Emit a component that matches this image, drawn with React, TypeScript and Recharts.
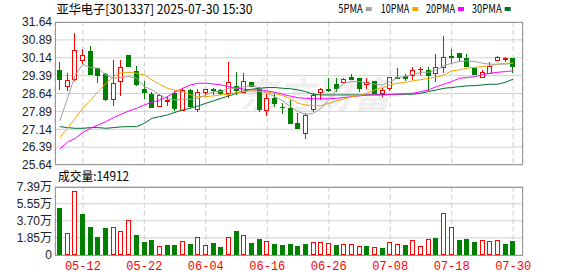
import { ComposedChart, Bar, Line, XAxis, YAxis, CartesianGrid } from "recharts"

const dates = [
  "05-07", "05-08", "05-09", "05-12", "05-13", "05-14", "05-15", "05-16", "05-19", "05-20",
  "05-21", "05-22", "05-23", "05-26", "05-27", "05-28", "05-29", "05-30", "06-03", "06-04",
  "06-05", "06-06", "06-09", "06-10", "06-11", "06-12", "06-13", "06-16", "06-17", "06-18",
  "06-19", "06-20", "06-23", "06-24", "06-25", "06-26", "06-27", "06-30", "07-01", "07-02",
  "07-03", "07-04", "07-07", "07-08", "07-09", "07-10", "07-11", "07-14", "07-15", "07-16",
  "07-17", "07-18", "07-21", "07-22", "07-23", "07-24", "07-25", "07-28", "07-29", "07-30",
]

const opens = [
  29.63, 28.97, 29.25, 30.03, 30.41, 29.72, 29.47, 28.42, 29.15, 30.24,
  29.58, 28.81, 28.61, 28.11, 28.33, 28.67, 27.95, 28.79, 27.99, 28.72,
  28.82, 28.77, 28.65, 28.97, 28.72, 29.11, 28.89, 27.95, 28.44, 28.08,
  28.02, 27.39, 27.0, 27.98, 28.72, 28.81, 29.03, 29.14, 29.35, 29.31,
  29.03, 29.18, 28.65, 28.89, 29.33, 29.38, 29.42, 29.66, 29.63, 29.52,
  29.74, 30.2, 30.33, 30.12, 29.73, 29.35, 29.49, 30.05, 30.07, 30.12,
]
const highs = [
  29.98, 29.49, 31.17, 30.5, 30.62, 29.73, 29.5, 30.03, 30.06, 30.25,
  29.78, 29.15, 28.72, 28.6, 28.55, 28.75, 28.86, 28.82, 28.83, 28.83,
  28.89, 28.84, 29.98, 29.56, 29.49, 29.14, 28.92, 28.61, 28.65, 28.23,
  28.35, 27.81, 27.81, 28.68, 28.89, 29.28, 29.28, 29.28, 29.45, 29.31,
  29.28, 29.18, 28.86, 29.35, 29.7, 29.45, 29.77, 29.77, 29.77, 30.29,
  31.07, 30.51, 30.33, 30.29, 29.73, 29.63, 29.95, 30.23, 30.19, 30.12,
]
const lows = [
  28.79, 28.76, 29.15, 29.87, 29.4, 29.07, 28.32, 28.1, 28.52, 29.77,
  28.94, 28.42, 28.02, 28.08, 28.12, 27.9, 27.9, 28.02, 27.88, 28.58,
  28.58, 28.58, 28.44, 28.58, 28.65, 28.93, 27.88, 27.71, 28.06, 27.77,
  27.35, 27.18, 26.73, 27.88, 28.37, 28.72, 28.72, 29.07, 29.21, 28.69,
  28.82, 28.65, 28.51, 28.75, 29.28, 29.17, 29.21, 29.42, 28.73, 29.14,
  29.49, 29.88, 29.98, 29.77, 29.42, 29.31, 29.45, 30.02, 29.98, 29.49,
]
const closes = [
  29.25, 29.21, 30.47, 30.24, 29.44, 29.4, 28.42, 29.09, 29.76, 29.81,
  29.05, 28.7, 28.09, 28.56, 28.36, 28.02, 28.79, 28.12, 28.72, 28.82,
  28.78, 28.65, 29.11, 28.79, 29.18, 28.97, 27.98, 28.44, 28.23, 28.06,
  27.39, 27.21, 27.74, 28.58, 28.82, 28.79, 28.86, 29.24, 29.24, 28.89,
  29.14, 28.68, 28.78, 29.35, 29.31, 29.31, 29.63, 29.68, 29.42, 29.74,
  30.19, 30.18, 30.16, 29.81, 29.45, 29.56, 29.81, 30.19, 30.12, 29.81,
]

const ma5 = [
  27.49, 28.44, 29.42, 29.87, 29.73, 29.7, 29.42, 29.28, 29.31, 29.35,
  29.28, 28.93, 28.79, 28.58, 28.41, 28.37, 28.4, 28.4, 28.44, 28.58,
  28.72, 28.72, 28.86, 28.86, 28.93, 28.97, 28.86, 28.65, 28.51, 28.33,
  28.09, 27.88, 27.77, 27.81, 28.02, 28.37, 28.79, 29.07, 29.14, 29.14,
  29.07, 29.03, 29.0, 29.14, 29.31, 29.35, 29.45, 29.53, 29.53, 29.63,
  29.81, 29.91, 29.98, 30.01, 29.98, 29.91, 29.87, 29.87, 29.87, 29.91,
]
const ma10 = [
  26.79, 27.18, 27.6, 28.02, 28.37, 28.72, 29.07, 29.35, 29.52, 29.53,
  29.49, 29.42, 29.21, 29.03, 28.86, 28.77, 28.72, 28.58, 28.51, 28.51,
  28.54, 28.58, 28.61, 28.68, 28.72, 28.75, 28.72, 28.69, 28.64, 28.55,
  28.42, 28.23, 28.16, 28.13, 28.13, 28.23, 28.33, 28.41, 28.51, 28.55,
  28.65, 28.79, 28.89, 29.0, 29.07, 29.11, 29.18, 29.22, 29.28, 29.33,
  29.42, 29.59, 29.63, 29.7, 29.74, 29.77, 29.81, 29.87, 29.91, 29.91,
]
const ma20 = [
  26.32, 26.6, 26.76, 27.01, 27.18, 27.32, 27.46, 27.63, 27.77, 27.91,
  28.02, 28.16, 28.27, 28.37, 28.51, 28.7, 28.86, 29.0, 29.07, 29.07,
  29.04, 29.0, 28.93, 28.86, 28.82, 28.79, 28.79, 28.75, 28.69, 28.61,
  28.53, 28.46, 28.44, 28.42, 28.42, 28.42, 28.44, 28.47, 28.51, 28.54,
  28.58, 28.58, 28.58, 28.6, 28.61, 28.63, 28.65, 28.72, 28.79, 28.93,
  29.03, 29.14, 29.28, 29.31, 29.35, 29.42, 29.49, 29.53, 29.56, 29.59,
]
const ma30 = [
  27.25, 27.21, 27.18, 27.18, 27.21, 27.21, 27.18, 27.21, 27.24, 27.25,
  27.25, 27.39, 27.6, 27.67, 27.74, 27.85, 27.95, 28.02, 28.12, 28.23,
  28.33, 28.44, 28.54, 28.65, 28.75, 28.82, 28.86, 28.89, 28.89, 28.86,
  28.84, 28.79, 28.72, 28.6, 28.58, 28.58, 28.58, 28.58, 28.58, 28.58,
  28.58, 28.59, 28.59, 28.6, 28.61, 28.61, 28.61, 28.65, 28.72, 28.79,
  28.86, 28.89, 28.93, 28.96, 28.97, 29.0, 29.03, 29.03, 29.11, 29.24,
]

const volumes = [
  50470, 23430, 69220, 44340, 30640, 19110, 28840, 29920, 25960, 37490,
  21630, 14420, 16220, 10090, 10820, 10820, 15140, 11900, 19110, 10450,
  12980, 8650, 19110, 25960, 21270, 12980, 17300, 15140, 11900, 10820,
  11900, 9730, 11900, 13700, 13700, 12980, 10450, 11900, 11900, 9730,
  9370, 8650, 7210, 13700, 11900, 10450, 15860, 9370, 17300, 18030,
  45420, 30280, 15860, 17300, 14060, 15860, 15140, 15860, 11900, 14912,
]
// r = up day (hollow red bar), g = down day (green bar)
const volColors = "grrggggrrrgggrggrgrrggrgrggrgggggrrrgrrrgrgrrgrrrgrrgggrrrgg"

const priceTicks = [25.64, 26.39, 27.14, 27.89, 28.64, 29.39, 30.14, 30.89, 31.64]
const volTicks = [0, 18500, 37000, 55500, 73900]
const dateTicks = ["05-12", "05-22", "06-04", "06-16", "06-26", "07-08", "07-18", "07-30"]

const legend = [
  { name: "5PMA", color: "#a0a0a0" },
  { name: "10PMA", color: "#f5a500" },
  { name: "20PMA", color: "#ff00ff" },
  { name: "30PMA", color: "#00702f" },
]

const RED = "#ff0000"
const GREEN = "#008000"

const rows = dates.map((date, i) => ({
  date,
  open: opens[i],
  high: highs[i],
  low: lows[i],
  close: closes[i],
  ma5: ma5[i],
  ma10: ma10[i],
  ma20: ma20[i],
  ma30: ma30[i],
  vol: volumes[i],
  up: volColors[i] === "r",
}))

function Candle(props: any) {
  const { x, y, width, height, payload } = props
  const top = Math.min(y, y + height)
  const h = Math.abs(height)
  const { open, close, high, low } = payload
  const k = high > low ? h / (high - low) : 0
  const py = (v: number) => top + (high - v) * k
  const up = close >= open
  const color = up ? RED : GREEN
  const L = Math.round(x + (width - 5) / 2)
  const cx = L + 2.5
  const bTop = Math.round(py(Math.max(open, close))) + 0.5
  const bBot = Math.round(py(Math.min(open, close))) + 0.5
  return (
    <g>
      <line x1={cx} x2={cx} y1={Math.round(py(high))} y2={Math.round(py(low))} stroke={color} strokeWidth={1} />
      {bBot - bTop < 1 ? (
        <line x1={L} x2={L + 5} y1={bTop} y2={bTop} stroke={color} strokeWidth={1} />
      ) : (
        <rect x={L + 0.5} y={bTop} width={4} height={bBot - bTop} fill={up ? "#fff" : color} stroke={color} strokeWidth={1} />
      )}
    </g>
  )
}

function VolBar(props: any) {
  const { x, y, width, height, payload } = props
  const L = Math.round(x + (width - 5) / 2)
  const top = Math.round(y) + 0.5
  const bottom = Math.round(y + height) - 0.5
  const color = payload.up ? RED : GREEN
  return <rect x={L + 0.5} y={top} width={4} height={Math.max(bottom - top, 0)} fill={payload.up ? "#fff" : color} stroke={color} strokeWidth={1} />
}

const axisFont = { fontSize: 12, fill: "#222", fontFamily: "'Liberation Sans', Arial, 'Noto Sans CJK SC', sans-serif" }
const cjk = "'Noto Sans CJK SC', 'Liberation Sans', sans-serif"

export default function App() {
  return (
    <div style={{ position: "absolute", left: 0, top: 0, width: 578, height: 276, background: "#fff", overflow: "hidden" }}>
      {/* watermark */}
      <div style={{ position: "absolute", left: 240, top: 66, fontSize: 36, fontWeight: 700, fontStyle: "italic", color: "#efefef", fontFamily: cjk, letterSpacing: 2, whiteSpace: "nowrap" }}>
        东方财富
      </div>

      {/* price chart */}
      <div style={{ position: "absolute", left: 0, top: 0 }}>
        <ComposedChart width={578} height={176} data={rows} margin={{ top: 22, right: 55, bottom: 11, left: 0 }}>
          <CartesianGrid vertical={false} stroke="#d2d2d2" />
          <CartesianGrid horizontal={false} stroke="#cccccc" strokeDasharray="5 3" />
          <XAxis dataKey="date" ticks={dateTicks} interval={0} hide padding={{ left: 1, right: 6 }} />
          <YAxis
            domain={[25.64, 31.64]}
            ticks={priceTicks}
            interval={0}
            width={55}
            axisLine={false}
            tickLine={false}
            tickSize={0}
            tickMargin={3}
            tick={axisFont}
            tickFormatter={(v: number) => v.toFixed(2)}
            allowDataOverflow
          />
          <Bar dataKey={(d: any) => [d.low, d.high]} barSize={5} shape={(p: any) => <Candle {...p} />} isAnimationActive={false} />
          <Line type="linear" dataKey="ma30" stroke={legend[3].color} strokeWidth={1} dot={false} activeDot={false} isAnimationActive={false} />
          <Line type="linear" dataKey="ma20" stroke={legend[2].color} strokeWidth={1} dot={false} activeDot={false} isAnimationActive={false} />
          <Line type="linear" dataKey="ma10" stroke={legend[1].color} strokeWidth={1} dot={false} activeDot={false} isAnimationActive={false} />
          <Line type="linear" dataKey="ma5" stroke={legend[0].color} strokeWidth={1} dot={false} activeDot={false} isAnimationActive={false} />
        </ComposedChart>
      </div>

      {/* volume chart */}
      <div style={{ position: "absolute", left: 0, top: 180 }}>
        <ComposedChart width={578} height={96} data={rows} margin={{ top: 6.7, right: 55, bottom: 0, left: 0 }}>
          <CartesianGrid vertical={false} stroke="#d2d2d2" />
          <CartesianGrid horizontal={false} stroke="#cccccc" strokeDasharray="5 3" />
          <XAxis
            dataKey="date"
            ticks={dateTicks}
            interval={0}
            height={21}
            padding={{ left: 1, right: 6 }}
            axisLine={false}
            tickLine={false}
            tickSize={0}
            tickMargin={6}
            tick={{ fontSize: 12, fill: RED, fontFamily: "'Liberation Mono', monospace" }}
          />
          <YAxis
            domain={[0, 73900]}
            ticks={volTicks}
            interval={0}
            width={55}
            axisLine={false}
            tickLine={false}
            tickSize={0}
            tickMargin={3}
            tick={axisFont}
            tickFormatter={(v: number) => (v === 0 ? "0" : (v / 10000).toFixed(2) + "万")}
          />
          <Bar dataKey="vol" barSize={5} shape={(p: any) => <VolBar {...p} />} isAnimationActive={false} />
        </ComposedChart>
      </div>

      {/* plot borders */}
      <div style={{ position: "absolute", left: 55, top: 21.5, width: 468, height: 143.5, border: "1px solid #999", boxSizing: "border-box", pointerEvents: "none" }} />
      <div style={{ position: "absolute", left: 55, top: 186.5, width: 468, height: 69, border: "1px solid #999", boxSizing: "border-box", pointerEvents: "none" }} />

      {/* title, legend, volume caption */}
      <svg width={578} height={276} style={{ position: "absolute", left: 0, top: 0, pointerEvents: "none" }}>
        <text x={56.5} y={13.5} fontSize={12.5} fontFamily={cjk} fill="#000" textLength={196} lengthAdjust="spacingAndGlyphs">
          亚华电子[301337] 2025-07-30 15:30
        </text>
        {legend.map((l, i) => {
          const starts = [338.3, 380.7, 426, 471.7]
          const widths = [24.4, 28.6, 29, 30]
          return (
            <g key={l.name}>
              <text x={starts[i]} y={13} fontSize={12} fontFamily={cjk} fill="#000" textLength={widths[i]} lengthAdjust="spacingAndGlyphs">
                {l.name}
              </text>
              <rect x={starts[i] + widths[i] + 3} y={7} width={6} height={4} fill={l.color} />
            </g>
          )
        })}
        <text x={58} y={181} fontSize={12.5} fontFamily={cjk} fill="#000" textLength={71} lengthAdjust="spacingAndGlyphs">
          成交量:14912
        </text>
      </svg>
    </div>
  )
}
